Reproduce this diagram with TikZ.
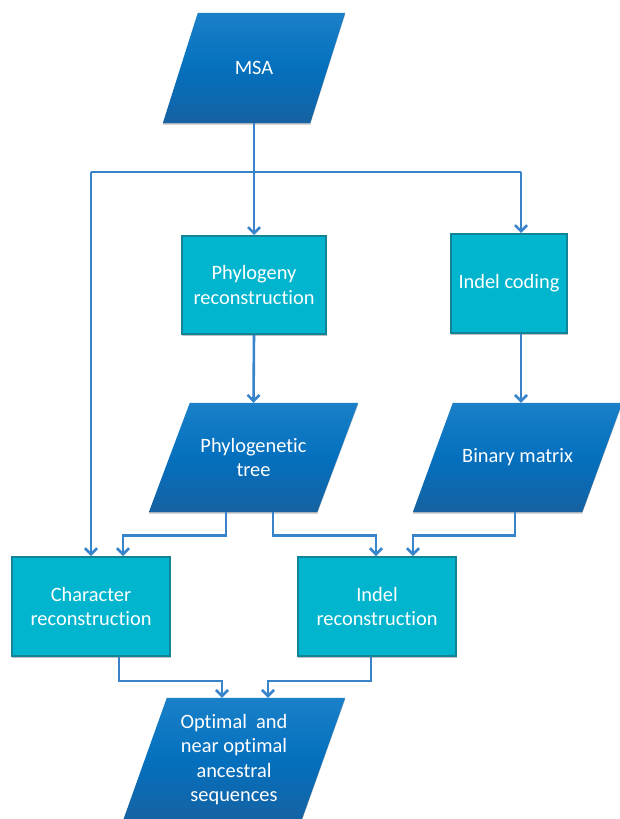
\documentclass[tikz,border=0pt]{standalone}
\usepackage{fontspec}
\setmainfont{Carlito}[Ligatures={NoCommon}]
\usetikzlibrary{arrows.meta,calc}
\definecolor{pbtop}{RGB}{26,128,200}
\definecolor{pbmid}{RGB}{4,112,190}
\definecolor{pbbot}{RGB}{22,98,162}
\definecolor{boxfill}{RGB}{0,181,205}
\definecolor{boxline}{RGB}{18,132,152}
\definecolor{conn}{RGB}{56,132,202}
\tikzset{
  txt/.style={text=white, font=\fontsize{20.4}{24.5}\selectfont, align=center, inner sep=0pt},
  procbox/.style={txt, rectangle, fill=boxfill, draw=boxline, line width=2pt,
     preaction={draw=gray!50, line width=1pt, transform canvas={yshift=-1.2pt}}},
  pshape/.style={txt, rectangle, draw=none},
  link/.style={draw=conn, line width=2.6pt, line join=miter},
  arr/.style={link, -{Straight Barb[length=6pt,width=12pt,line width=2.6pt]}},
}
\newcommand{\paragram}[2]{%
  \fill[gray!50] ($(#1.north west)+(#2,1.5)$) -- ($(#1.north east)+(0,1.5)$) -- ($(#1.south east)+(-#2,1.5)$) -- ($(#1.south west)+(0,1.5)$) -- cycle;
  \shade[top color=pbtop, bottom color=pbbot, middle color=pbmid]
    ($(#1.north west)+(#2,0)$) -- (#1.north east) -- ($(#1.south east)+(-#2,0)$) -- (#1.south west) -- cycle;
}
\begin{document}
\begin{tikzpicture}[x=1pt,y=-1pt]
\useasboundingbox (0,0) rectangle (619,819);
% parallelogram holders (invisible rectangles = bounding boxes)
\node[pshape, minimum width=182, minimum height=110] (msa) at (254,68) {};
\node[pshape, minimum width=209, minimum height=109] (tree) at (253.5,457.5) {};
\node[pshape, minimum width=209, minimum height=109] (bin) at (517.5,457.5) {};
\node[pshape, minimum width=222, minimum height=123] (out) at (234,759.5) {};
\paragram{msa}{35}
\paragram{tree}{41}
\paragram{bin}{40}
\paragram{out}{44}
\node[txt] (msat) at (msa) {MSA};
\node[txt] (treet) at (tree) {Phylogenetic\\tree};
\node[txt] (bint) at (bin) {Binary matrix};
\node[txt] (outt) at (out) {Optimal\ \ and\\near optimal\\ancestral\\sequences};
% process boxes
\node[procbox, minimum width=144, minimum height=98] (phy) at (254,285) {Phylogeny\\reconstruction};
\node[procbox, minimum width=116, minimum height=99] (icod) at (509,283.5) {Indel coding};
\node[procbox, minimum width=158, minimum height=99] (char) at (91,606.5) {Character\\reconstruction};
\node[procbox, minimum width=158, minimum height=99] (irec) at (377,606.5) {Indel\\reconstruction};
% junction coordinates
\coordinate (j0) at (254,172);
\coordinate (jl) at (91,172);
\coordinate (jr) at (521,172);
% connectors
\draw[link] (msa.south) -- (j0);
\draw[link] (jl) -- (jr);
\draw[arr] (j0) -- (phy.north);
\draw[arr] (jr) -- (jr |- icod.north);
\draw[arr] (jl) -- (char.north);
\draw[arr] (phy.south) -- (tree.north);
\draw[arr] (icod.south -| jr) -- (jr |- bin.north);
\draw[arr] ($(tree.south)+(-27.5,0)$) -- ++(0,23) -| ($(char.north)+(32,0)$);
\draw[arr] ($(tree.south)+(19.5,0)$) -- ++(0,23) -| ($(irec.north)+(-1,0)$);
\draw[arr] ($(bin.south)+(-2.5,0)$) -- ++(0,23) -| ($(irec.north)+(36,0)$);
\draw[arr] ($(char.south)+(28,0)$) -- ++(0,24) -| ($(out.north)+(-12,0)$);
\draw[arr] ($(irec.south)+(-6,0)$) -- ++(0,24) -| ($(out.north)+(34,0)$);
\end{tikzpicture}
\end{document}
